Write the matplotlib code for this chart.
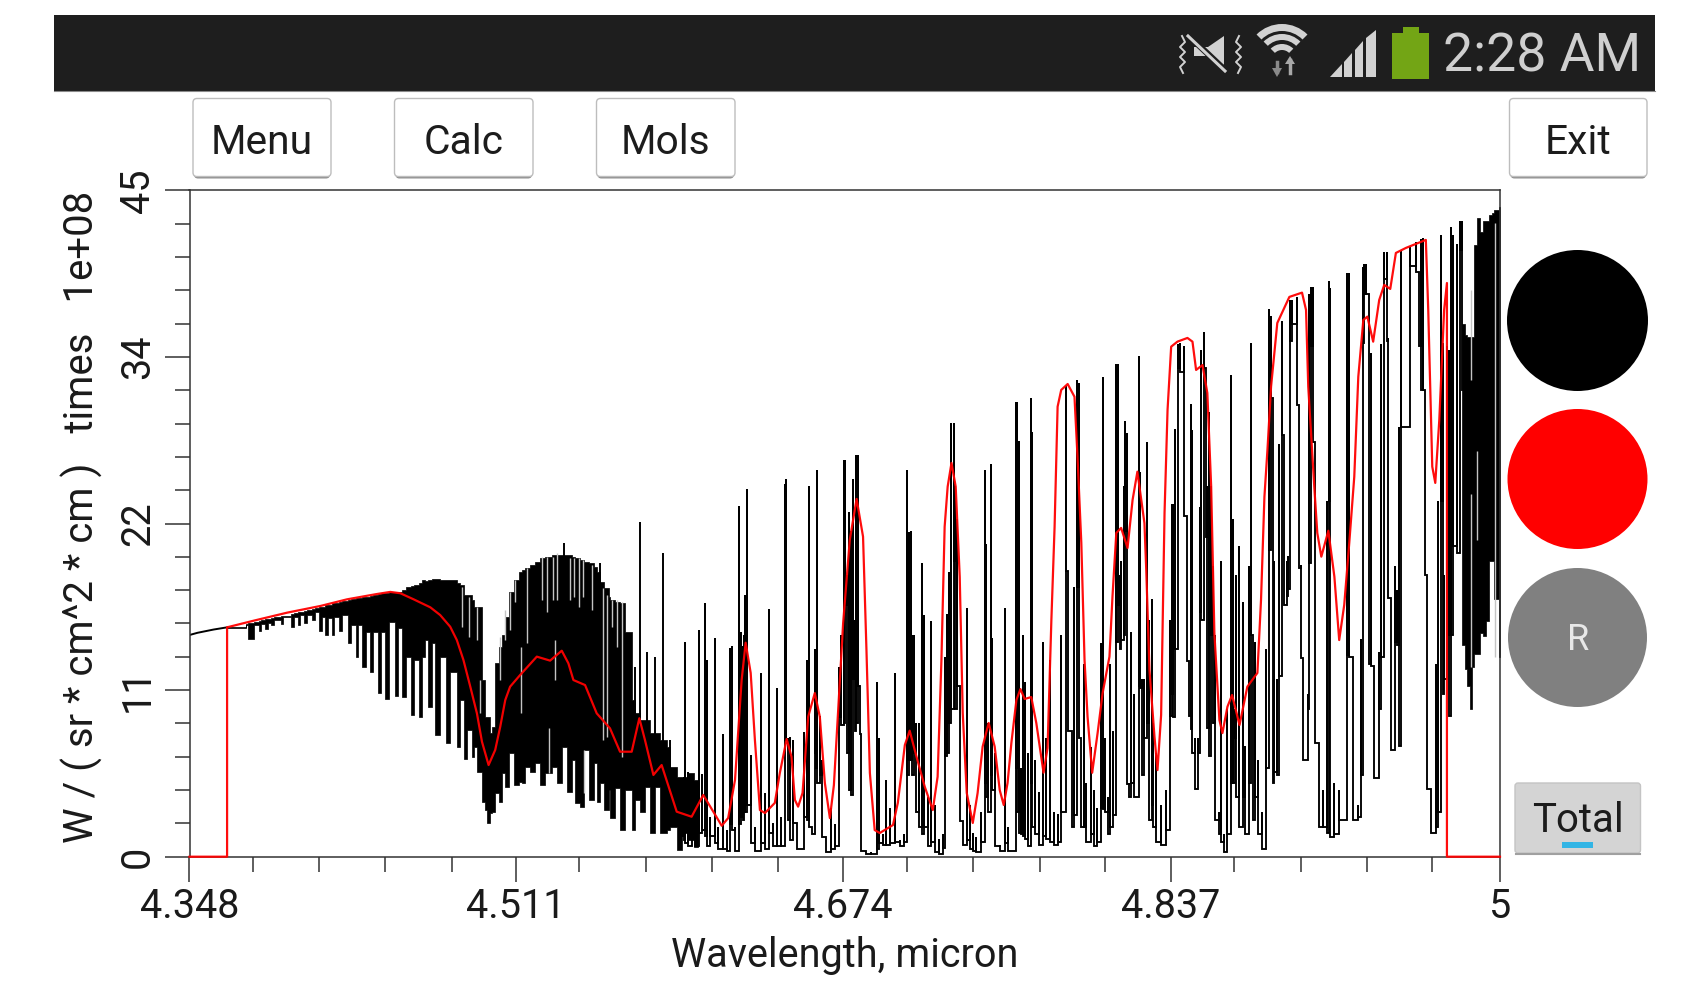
import numpy as np
import matplotlib
matplotlib.use('Agg')
import matplotlib.pyplot as plt
from matplotlib.patches import Rectangle, FancyBboxPatch, Circle, Polygon, Wedge

plt.rcParams['font.family'] = ['Roboto', 'DejaVu Sans']

W, H = 1687, 988

# ---- axis ticks
x_major = [4.348, 4.5103, 4.6732, 4.8364, 5.0]
x_labels = ['4.348', '4.511', '4.674', '4.837', '5']
x_minor = [4.3796, 4.4126, 4.4454, 4.4784, 4.5419, 4.5750, 4.6078, 4.6406,
           4.7052, 4.7378, 4.7710, 4.8033, 4.8679, 4.9010, 4.9340, 4.9663]
y_major = [0, 11.25, 22.5, 33.75, 45]
y_labels = ['0', '11', '22', '34', '45']
y_minor = [2.25, 4.5, 6.75, 9, 13.5, 15.75, 18, 20.25, 24.75, 27, 29.25, 31.5, 36, 38.25, 40.5, 42.75]

# ---- red curve (smoothed spectrum)
red_x = [4.3480, 4.3667, 4.3667, 4.3800, 4.3966, 4.4131, 4.4264, 4.4413, 4.4479, 4.4529, 4.4595, 4.4678, 4.4727,
         4.4777, 4.4810, 4.4843, 4.4877, 4.4910, 4.4935, 4.4968, 4.5001, 4.5026, 4.5051, 4.5075, 4.5125, 4.5208,
         4.5274, 4.5332, 4.5365, 4.5390, 4.5448, 4.5506, 4.5572, 4.5622, 4.5680, 4.5718, 4.5746, 4.5788, 4.5829,
         4.5904, 4.5978, 4.6036, 4.6128, 4.6160, 4.6194, 4.6227, 4.6247, 4.6272, 4.6293, 4.6318, 4.6343, 4.6392,
         4.6417, 4.6451, 4.6475, 4.6492, 4.6508, 4.6530, 4.6558, 4.6591, 4.6616, 4.6641, 4.6666, 4.6686, 4.6732,
         4.6765, 4.6799, 4.6831, 4.6848, 4.6865, 4.6889, 4.6914, 4.6980, 4.7004, 4.7039, 4.7063, 4.7097, 4.7138,
         4.7178, 4.7202, 4.7221, 4.7237, 4.7252, 4.7271, 4.7292, 4.7312, 4.7327, 4.7347, 4.7377, 4.7401, 4.7426,
         4.7456, 4.7486, 4.7511, 4.7531, 4.7550, 4.7569, 4.7594, 4.7614, 4.7635, 4.7668, 4.7693, 4.7729, 4.7749,
         4.7768, 4.7784, 4.7799, 4.7817, 4.7849, 4.7883, 4.7898, 4.7917, 4.7933, 4.7948, 4.7971, 4.7998, 4.8023,
         4.8057, 4.8072, 4.8091, 4.8115, 4.8147, 4.8172, 4.8196, 4.8231, 4.8240, 4.8256, 4.8281, 4.8296, 4.8314,
         4.8331, 4.8346, 4.8364, 4.8395, 4.8445, 4.8470, 4.8488, 4.8520, 4.8544, 4.8563, 4.8579, 4.8604, 4.8619,
         4.8644, 4.8667, 4.8704, 4.8743, 4.8793, 4.8811, 4.8828, 4.8843, 4.8861, 4.8892, 4.8952, 4.9015, 4.9035,
         4.9046, 4.9076, 4.9091, 4.9111, 4.9146, 4.9176, 4.9200, 4.9225, 4.9250, 4.9275, 4.9295, 4.9320, 4.9340,
         4.9369, 4.9399, 4.9424, 4.9454, 4.9482, 4.9532, 4.9631, 4.9643, 4.9663, 4.9678, 4.9698, 4.9722, 4.9736,
         4.9736, 5.0000]
red_y = [0, 0, 15.49, 15.94, 16.48, 16.93, 17.38, 17.74, 17.88, 17.79, 17.38, 16.84, 16.32,
         15.53, 14.63, 13.28, 11.48, 9.68, 7.77, 6.19, 7.21, 8.78, 10.58, 11.48, 12.27, 13.51,
         13.24, 13.91, 13.06, 11.93, 11.59, 9.68, 8.67, 7.09, 7.09, 9.35, 7.88, 5.52, 6.19,
         3.04, 2.70, 4.17, 2.09, 2.61, 5.18, 11.93, 14.45, 12.41, 7.88, 3.15, 2.95, 3.63,
         5.65, 7.95, 6.75, 3.83, 3.38, 4.30, 9.45, 11.05, 9.45, 4.98, 2.61, 4.84, 15.78,
         21.39, 24.16, 21.61, 13.96, 5.65, 1.80, 1.60, 2.14, 3.63, 7.54, 8.51, 6.75, 4.73,
         3.15, 5.40, 13.28, 22.28, 24.99, 26.59, 24.99, 18.91, 9.70, 4.30, 2.28, 4.30, 7.43,
         9.03, 7.43, 4.50, 3.49, 4.98, 7.68, 10.58, 11.32, 10.65, 10.78, 9.03, 5.67, 7.34,
         15.98, 22.28, 30.39, 31.52, 31.92, 31.06, 27.01, 21.18, 13.28, 9.45, 5.67, 8.35, 11.05,
         13.51, 17.56, 21.86, 22.20, 20.85, 24.09, 26.00, 22.53, 19.36, 12.61, 8.10, 5.85, 9.57,
         23.21, 30.17, 34.44, 34.78, 35.03, 34.78, 32.87, 33.20, 31.31, 24.99, 15.11, 9.23, 8.35,
         10.13, 10.92, 8.89, 11.48, 12.41, 17.33, 24.31, 27.46, 31.74, 36.04, 37.80, 38.09, 36.92,
         31.74, 24.99, 21.86, 20.26, 22.01, 18.91, 14.63, 17.00, 21.18, 25.66, 32.41, 36.24, 36.47,
         34.78, 37.59, 38.61, 38.34, 40.77, 41.11, 41.65, 36.92, 26.34, 25.24, 29.49, 36.92, 38.74,
         0, 0]

# ---- black spectrum, start of the trace before the comb
lead_x = [4.3480, 4.3520, 4.3600, 4.3668]
lead_y = [14.97, 15.12, 15.34, 15.49]

# ---- black spectrum, dense comb on the left (upper and lower edge per column)
band_x = [4.3668, 4.3759, 4.3770, 4.3800, 4.3825, 4.3837, 4.3858, 4.3873, 4.3886, 4.3900, 4.3933, 4.3946, 4.3983,
          4.3999, 4.4019, 4.4029, 4.4052, 4.4065, 4.4090, 4.4103, 4.4123, 4.4140, 4.4156, 4.4168, 4.4191, 4.4201,
          4.4223, 4.4238, 4.4268, 4.4284, 4.4306, 4.4317, 4.4340, 4.4357, 4.4380, 4.4392, 4.4420, 4.4433, 4.4455,
          4.4471, 4.4501, 4.4518, 4.4538, 4.4558, 4.4582, 4.4599, 4.4620, 4.4637, 4.4654, 4.4665, 4.4687, 4.4703,
          4.4728, 4.4756, 4.4778, 4.4811, 4.4828, 4.4844, 4.4861, 4.4886, 4.4897, 4.4910, 4.4935, 4.4952, 4.4960,
          4.4973, 4.4985, 4.5002, 4.5018, 4.5035, 4.5051, 4.5068, 4.5093, 4.5118, 4.5134, 4.5151, 4.5176, 4.5200,
          4.5222, 4.5250, 4.5283, 4.5308, 4.5333, 4.5358, 4.5383, 4.5399, 4.5424, 4.5441, 4.5466, 4.5490, 4.5507,
          4.5524, 4.5540, 4.5565, 4.5573, 4.5598, 4.5623, 4.5648, 4.5681, 4.5698, 4.5722, 4.5747, 4.5772, 4.5797,
          4.5822, 4.5855, 4.5872, 4.5905, 4.5930, 4.5954, 4.5988, 4.6012]
band_top = [15.49, 15.72, 15.76, 15.85, 15.94, 15.96, 16.03, 16.08, 16.12, 16.17, 16.26, 16.28, 16.39,
            16.44, 16.50, 16.53, 16.59, 16.64, 16.75, 16.80, 16.84, 16.89, 16.98, 17.02, 17.11, 17.13,
            17.22, 17.27, 17.34, 17.38, 17.45, 17.47, 17.52, 17.56, 17.61, 17.65, 17.74, 17.79, 17.83,
            17.85, 17.88, 17.88, 18.01, 18.19, 18.28, 18.35, 18.46, 18.69, 18.64, 18.69, 18.73, 18.73,
            18.69, 18.69, 18.69, 18.46, 18.35, 17.67, 17.67, 17.34, 16.89, 16.89, 11.93, 9.46, 9.46,
            8.33, 8.78, 13.06, 14.19, 14.97, 16.21, 17.90, 18.69, 19.25, 19.36, 19.48, 19.70, 19.93,
            20.15, 20.26, 20.38, 20.38, 20.38, 20.38, 20.26, 20.15, 20.04, 19.93, 19.81, 19.59, 19.25,
            18.58, 18.13, 17.56, 17.34, 17.22, 17.11, 15.20, 10.58, 9.68, 9.23, 9.23, 8.33, 8.33,
            7.88, 7.43, 6.08, 5.41, 5.41, 5.63, 5.18, 3.83]
band_low = [15.45, 15.67, 14.68, 15.65, 15.27, 15.72, 15.36, 15.81, 15.63, 15.99, 15.72, 16.17, 15.54,
            16.21, 15.65, 16.32, 15.76, 16.32, 15.99, 16.55, 15.27, 16.21, 14.97, 16.10, 14.97, 16.21,
            15.27, 16.32, 14.41, 15.65, 13.51, 15.65, 12.84, 15.20, 12.50, 15.20, 11.03, 15.20, 10.63,
            15.87, 10.85, 15.42, 10.81, 13.51, 9.57, 13.29, 9.46, 13.51, 14.64, 10.13, 14.41, 8.22,
            13.51, 7.66, 12.50, 7.39, 10.58, 6.58, 8.56, 6.76, 7.43, 5.74, 3.72, 3.16, 2.25,
            2.93, 3.04, 4.28, 3.72, 5.63, 4.73, 6.98, 4.84, 5.07, 4.96, 6.08, 5.74, 6.31,
            4.84, 5.63, 6.08, 4.96, 7.43, 4.39, 6.53, 3.61, 3.38, 7.21, 3.83, 6.31, 3.72,
            4.96, 3.16, 4.51, 2.59, 4.62, 1.80, 4.51, 1.80, 3.83, 3.04, 4.73, 1.58, 4.73,
            1.58, 1.80, 2.03, 0.45, 1.58, 1.13, 0.68, 1.13]

# ---- black spectrum, single lines standing out above the comb
tall_x = [4.5341, 4.5520, 4.5643, 4.5664, 4.5698, 4.5719, 4.5756, 4.5797, 4.5835, 4.5872]
tall_top = [21.16, 19.81, 15.20, 13.96, 12.84, 22.63, 13.85, 13.51, 20.49, 7.88]
tall_low = [19.0, 18.0, 8.0, 8.0, 8.0, 5.0, 8.0, 8.0, 6.0, 5.0]

# ---- black spectrum, separate lines: position, top of the line, bottom reached after it
spec_x = [4.5928, 4.5940, 4.5945, 4.5961, 4.5978, 4.5995, 4.6014, 4.6028, 4.6044, 4.6053, 4.6069, 4.6094, 4.6111,
          4.6132, 4.6152, 4.6169, 4.6177, 4.6193, 4.6215, 4.6223, 4.6232, 4.6240, 4.6246, 4.6253, 4.6276, 4.6293,
          4.6321, 4.6343, 4.6362, 4.6384, 4.6404, 4.6425, 4.6444, 4.6450, 4.6459, 4.6467, 4.6483, 4.6500, 4.6536,
          4.6550, 4.6561, 4.6575, 4.6591, 4.6598, 4.6603, 4.6619, 4.6629, 4.6649, 4.6674, 4.6691, 4.6712, 4.6720,
          4.6734, 4.6742, 4.6749, 4.6762, 4.6772, 4.6782, 4.6790, 4.6798, 4.6806, 4.6815, 4.6823, 4.6848, 4.6873,
          4.6898, 4.6909, 4.6931, 4.6947, 4.6964, 4.6989, 4.7013, 4.7033,
          4.7050, 4.7060, 4.7068, 4.7076, 4.7085, 4.7096, 4.7110, 4.7126, 4.7136, 4.7154, 4.7167, 4.7187, 4.7209,
          4.7229, 4.7240, 4.7250, 4.7259, 4.7270, 4.7282, 4.7290, 4.7298, 4.7312, 4.7328, 4.7348, 4.7361, 4.7378,
          4.7394, 4.7416, 4.7438, 4.7444, 4.7454, 4.7467, 4.7474, 4.7486, 4.7510, 4.7537, 4.7552, 4.7593, 4.7598,
          4.7607, 4.7615, 4.7627, 4.7636, 4.7651, 4.7665, 4.7673, 4.7685, 4.7706, 4.7726, 4.7743, 4.7759, 4.7779,
          4.7801, 4.7817, 4.7842, 4.7853, 4.7872, 4.7883, 4.7897, 4.7905, 4.7916, 4.7928, 4.7941,
          4.7966, 4.7978, 4.7994, 4.8016, 4.8024, 4.8033, 4.8049, 4.8061, 4.8074, 4.8091, 4.8099, 4.8107, 4.8115,
          4.8129, 4.8135, 4.8142, 4.8153, 4.8165, 4.8177, 4.8202, 4.8208, 4.8220, 4.8231, 4.8243, 4.8256, 4.8269,
          4.8276, 4.8289, 4.8314, 4.8336, 4.8356, 4.8366, 4.8372, 4.8382, 4.8397, 4.8409, 4.8430, 4.8442, 4.8455,
          4.8462, 4.8468, 4.8485, 4.8497, 4.8505, 4.8513, 4.8525, 4.8535, 4.8541, 4.8554, 4.8563, 4.8574, 4.8584,
          4.8601, 4.8611, 4.8629, 4.8641, 4.8661, 4.8670, 4.8680, 4.8687, 4.8700, 4.8720, 4.8730, 4.8753, 4.8762,
          4.8770, 4.8781, 4.8795, 4.8816, 4.8836, 4.8853, 4.8861, 4.8869, 4.8878, 4.8891, 4.8902, 4.8916, 4.8927,
          4.8939, 4.8947,
          4.8957, 4.8965, 4.8988, 4.9002, 4.9010, 4.9022, 4.9043, 4.9051, 4.9061, 4.9068, 4.9081, 4.9101, 4.9118,
          4.9138, 4.9148, 4.9156, 4.9176, 4.9201, 4.9237, 4.9250, 4.9267, 4.9292, 4.9308, 4.9316, 4.9325, 4.9335,
          4.9350, 4.9356, 4.9374, 4.9396, 4.9408, 4.9424, 4.9436, 4.9442, 4.9457, 4.9479, 4.9489, 4.9499, 4.9507,
          4.9552, 4.9582, 4.9595, 4.9606, 4.9618, 4.9626, 4.9635, 4.9656, 4.9681, 4.9694, 4.9706, 4.9714, 4.9722,
          4.9736, 4.9747, 4.9756, 4.9764, 4.9776, 4.9785, 4.9802, 4.9809]
spec_top = [4.5, 5.4, 14.5, 5.7, 4.3, 2.9, 15.3, 5.6, 17.1, 13.3, 2.7, 14.8, 2.0,
            8.3, 1.8, 14.1, 14.2, 2.0, 23.7, 15.2, 14.2, 15.0, 17.7, 24.8, 6.9, 2.0,
            12.4, 4.3, 16.7, 2.3, 11.4, 2.7, 25.2, 25.5, 8.0, 8.1, 7.9, 2.3, 8.4,
            13.3, 25.0, 2.0, 14.0, 14.0, 26.1, 9.5, 6.5, 1.2, 3.3, 2.2, 12.8, 15.0,
            26.8, 26.8, 19.0, 23.3, 22.0, 25.5, 16.0, 27.1, 27.1, 11.5, 3.2, 0.3, 0.3,
            11.8, 8.0, 1.5, 5.2, 3.3, 12.4, 1.1, 1.5,
            26.1, 21.9, 22.0, 15.0, 15.0, 9.0, 9.0, 19.8, 16.3, 4.0, 15.9, 3.5, 1.2,
            1.5, 13.5, 16.4, 19.2, 29.3, 29.3, 25.0, 22.8, 3.0, 1.5, 16.8, 3.5, 1.6,
            1.3, 3.0, 26.1, 21.1, 9.0, 26.5, 14.8, 7.0, 0.8, 16.8, 2.0, 30.7, 30.7,
            28.1, 6.0, 15.0, 11.8, 7.0, 31.0, 28.7, 6.5, 4.4, 14.5, 8.0, 13.3, 3.0,
            2.9, 15.0, 31.8, 19.3, 8.0, 18.2, 32.2, 32.0, 8.0, 13.0, 5.0,
            7.4, 4.5, 3.3, 14.4, 32.4, 8.0, 4.0, 13.0, 8.5, 33.3, 33.3, 19.0, 20.0,
            25.0, 29.4, 28.6, 5.0, 15.2, 11.0, 33.8, 26.0, 12.0, 12.0, 28.0, 16.0, 17.4,
            9.0, 7.0, 3.5, 4.5, 16.0, 23.8, 23.8, 28.9, 34.6, 34.7, 34.5, 22.9, 13.2,
            30.6, 28.8, 8.0, 8.0, 23.6, 34.2, 35.4, 25.5, 25.0, 30.0, 25.0, 19.6, 15.0,
            3.0, 20.0, 1.5, 10.0, 32.5, 22.8, 10.0, 19.0, 21.0, 17.2, 7.5, 19.6, 34.7,
            15.0, 14.5, 6.5, 3.0, 14.0, 37.0, 36.5, 20.0, 20.0, 12.0, 27.9, 36.2, 28.5,
            20.0, 20.3,
            37.6, 37.6, 37.8, 19.7, 19.7, 13.0, 11.0, 38.0, 38.5, 38.5, 27.5, 2.5, 4.5,
            24.0, 38.9, 38.4, 5.0, 4.5, 39.4, 39.4, 8.0, 3.5, 14.7, 39.8, 40.0, 40.0,
            13.0, 34.0, 6.0, 13.8, 34.6, 40.8, 40.8, 35.0, 7.3, 19.6, 18.0, 29.0, 40.9,
            41.2, 41.5, 39.0, 41.7, 41.8, 31.5, 19.0, 2.0, 13.0, 24.0, 42.0, 34.7, 19.0,
            34.5, 34.2, 42.5, 42.0, 21.0, 41.4, 42.9, 42.9]
spec_low = [1.4, 1.1, 0.9, 0.7, 1.4, 0.7, 1.6, 1.8, 1.4, 0.7, 1.4, 0.9, 0.5,
            0.5, 0.4, 2.2, 1.8, 0.4, 2.2, 2.7, 2.5, 3.0, 3.0, 3.5, 0.9, 0.4,
            0.9, 0.5, 1.6, 0.7, 0.7, 0.7, 7.9, 7.9, 2.5, 1.1, 2.3, 0.5, 2.7,
            2.5, 2.0, 1.5, 7.0, 6.0, 5.0, 5.5, 1.3, 0.3, 0.5, 0.7, 9.4, 8.9,
            9.0, 17.0, 7.0, 4.5, 4.2, 12.0, 8.5, 9.0, 11.5, 8.3, 0.4, 0.2, 0.2,
            0.5, 0.9, 0.8, 0.8, 0.9, 1.0, 0.7, 1.0,
            5.5, 6.5, 6.5, 5.5, 7.0, 3.0, 2.0, 1.5, 2.0, 0.7, 1.0, 0.3, 0.2,
            0.6, 6.8, 7.0, 9.0, 10.0, 20.0, 10.0, 11.5, 2.4, 0.8, 1.1, 0.5, 0.4,
            0.3, 1.0, 5.0, 4.0, 3.0, 5.5, 4.5, 0.7, 0.4, 0.9, 0.4, 6.0, 3.0,
            1.6, 1.5, 1.4, 1.2, 0.7, 5.0, 2.0, 1.5, 0.8, 1.4, 1.2, 1.0, 0.8,
            1.0, 3.0, 19.3, 8.5, 2.0, 2.8, 18.2, 8.0, 2.0, 2.0, 1.0,
            1.5, 0.7, 1.0, 3.3, 3.2, 3.0, 1.5, 2.0, 2.8, 14.5, 17.0, 14.0, 14.6,
            15.0, 22.0, 4.9, 4.0, 5.0, 4.0, 11.5, 11.4, 5.5, 8.0, 9.0, 2.5, 3.5,
            2.0, 1.0, 0.8, 1.8, 9.5, 11.0, 9.4, 14.0, 33.0, 32.7, 23.0, 13.2, 9.5,
            8.6, 7.0, 4.6, 7.0, 16.5, 16.0, 33.0, 21.6, 8.7, 6.8, 15.0, 9.0, 2.5,
            1.5, 1.0, 0.3, 1.5, 5.0, 5.0, 8.0, 4.0, 2.0, 4.0, 1.5, 5.0, 15.0,
            2.5, 4.0, 1.5, 0.5, 6.0, 20.7, 31.0, 5.0, 5.7, 5.5, 12.2, 28.5, 17.0,
            17.6, 18.1,
            34.8, 36.0, 30.5, 19.5, 13.4, 6.5, 10.0, 19.8, 34.5, 28.0, 7.7, 2.0, 2.0,
            1.6, 24.0, 1.3, 1.5, 2.5, 13.6, 13.5, 2.5, 2.7, 5.5, 34.7, 38.0, 38.0,
            13.0, 12.9, 5.3, 10.0, 13.5, 39.0, 34.8, 17.5, 7.2, 14.5, 14.3, 7.5, 29.0,
            39.9, 39.5, 34.5, 31.5, 31.5, 19.0, 4.6, 1.6, 2.0, 3.0, 24.0, 11.0, 12.0,
            15.0, 9.5, 15.0, 21.0, 21.0, 20.5, 41.0, 31.5]

# ---- black spectrum, solid block at the right end
end_x = [4.9810, 4.9827, 4.9838, 4.9850, 4.9860, 4.9872, 4.9888, 4.9900, 4.9916, 4.9930, 4.9943, 4.9959, 4.9971, 4.9996, 5.0]
end_top = [36.0, 35.2, 35.1, 35.1, 35.1, 41.3, 43.1, 42.2, 42.9, 42.9, 43.3, 43.5, 43.7, 43.9, 43.9]
end_low = [14.3, 12.7, 11.5, 10.0, 12.8, 13.7, 13.7, 15.1, 14.9, 15.9, 20.0, 20.0, 17.4, 13.5, 13.5]

# ---- thin light gaps left between the black columns
slit_x = [4.4836, 4.4869, 4.4910, 4.4927, 4.5026, 4.5051, 4.5076, 4.5101, 4.5129, 4.5159, 4.5234, 4.5258, 4.5286,
          4.5296, 4.5308, 4.5371, 4.5391, 4.5416, 4.5436, 4.5270, 4.5441, 4.5482, 4.5537, 4.5557, 4.5582, 4.5606,
          4.5631, 4.9855, 4.9855, 4.9885, 4.9974]
slit_hi = [18.24, 17.56, 16.89, 11.93, 14.86, 16.66, 17.90, 18.69, 14.19, 19.48, 20.26, 20.26, 20.26,
           14.64, 20.53, 20.15, 20.15, 20.15, 20.04, 8.67, 7.21, 19.70, 18.13, 17.67, 17.34, 17.34,
           17.22, 38.3, 24.5, 27.4, 42.8]
slit_lo = [15.54, 14.86, 14.64, 9.68, 11.93, 14.64, 15.31, 17.22, 9.68, 14.41, 17.34, 16.55, 17.34,
           11.93, 17.34, 17.34, 17.56, 16.89, 17.56, 5.63, 4.28, 16.66, 7.88, 8.11, 15.54, 14.19,
           6.76, 32.2, 12.8, 21.4, 13.5]

fig = plt.figure(figsize=(W / 100, H / 100), dpi=100, facecolor='white')

# chart
ax = fig.add_axes([189.5 / W, 1 - 856.7 / H, 1310.5 / W, 666.4 / H])
ax.set_xlim(4.348, 5.0)
ax.set_ylim(0, 45)

ax.plot(lead_x, lead_y, color='k', lw=1.4, zorder=1.5)
ax.fill_between(band_x, band_low, band_top, step='post', color='k', lw=0.5, zorder=1.5)
ax.fill_between(end_x, end_low, end_top, step='post', color='k', lw=0.5, zorder=1.5)
ax.vlines(tall_x, tall_low, tall_top, color='k', lw=1.4, zorder=1.5)

# lines go up and down in place, then run along their bottom value to the next one
spec_x = np.array(spec_x)
spec_top = np.array(spec_top)
spec_low = np.array(spec_low)
prev_low = np.r_[spec_low[0], spec_low[:-1]]
trace_x = np.repeat(spec_x, 3)
trace_y = np.column_stack([prev_low, spec_top, spec_low]).ravel()
ax.plot(trace_x, trace_y, color='k', lw=1.35, solid_joinstyle='miter', zorder=1.6)

ax.vlines(slit_x, slit_lo, slit_hi, color='#c4c4c4', lw=1.0, zorder=1.7)

ax.plot(red_x, red_y, color='#ff0000', lw=1.6, alpha=0.95, zorder=3, clip_on=False)

ax.set_xticks(x_major)
ax.set_xticklabels(x_labels)
ax.set_xticks(x_minor, minor=True)
ax.set_yticks(y_major)
ax.set_yticklabels(y_labels, rotation=90, va='center')
ax.set_yticks(y_minor, minor=True)
ax.tick_params(which='major', length=18, width=1.1, color='#333333', labelsize=28.5, labelcolor='#1a1a1a')
ax.tick_params(which='minor', length=11, width=1.1, color='#333333')
ax.tick_params(axis='x', which='major', pad=4)
ax.tick_params(axis='y', which='major', pad=5.5)
for s in ax.spines.values():
    s.set_linewidth(1.1)
    s.set_color('#333333')
ax.set_xlabel('Wavelength, micron', fontsize=28.5, color='#1a1a1a', labelpad=7)
fig.text(81.5 / W, 1 - 517 / H, 'W / ( sr * cm^2 * cm )   times   1e+08', rotation=90, fontsize=28.9,
         color='#1a1a1a', ha='center', va='center')

# screen around the chart, drawn in pixel coordinates
ui = fig.add_axes([0, 0, 1, 1], facecolor='none', zorder=5)
ui.set_xlim(0, W)
ui.set_ylim(H, 0)
ui.axis('off')

ui.add_patch(Rectangle((54, 15), 1601, 76, fc='#1e1e1e', ec='none'))
ui.plot([54, 1655], [91, 91], color='#8a8a8a', lw=0.8)


def button(x0, x1, y0, y1, label, fill='white', edge='#bdbdbd'):
    ui.add_patch(FancyBboxPatch((x0 + 1, y0 + 3), x1 - x0 - 2, y1 - y0 - 1, boxstyle='round,pad=0,rounding_size=4',
                                fc='#7c7c7c', ec='none', alpha=0.85))
    ui.add_patch(FancyBboxPatch((x0, y0), x1 - x0, y1 - y0, boxstyle='round,pad=0,rounding_size=4',
                                fc=fill, ec=edge, lw=1.0))
    ui.text((x0 + x1) / 2, (y0 + y1) / 2 + 4.5, label, fontsize=29.3, color='#1c1c1c', ha='center', va='center')


button(193, 331, 98.5, 176.5, 'Menu')
button(394.5, 533, 98.5, 176.5, 'Calc')
button(596.5, 735, 98.5, 176.5, 'Mols')
button(1509.5, 1647, 98.5, 176.5, 'Exit')

ui.add_patch(Circle((1577.5, 320.5), 70.5, fc='black', ec='none'))
ui.add_patch(Circle((1577.5, 479), 70, fc='#ff0000', ec='none'))
ui.add_patch(Circle((1577.5, 637.5), 69.5, fc='#808080', ec='none'))
ui.text(1578, 640, 'R', fontsize=26, color='#e8e8e8', ha='center', va='center')

ui.add_patch(FancyBboxPatch((1515, 783), 125.5, 70, boxstyle='round,pad=0,rounding_size=3',
                            fc='#d4d4d4', ec='#c4c4c4', lw=1.0))
ui.plot([1516, 1640], [853.5, 853.5], color='#a0a0a0', lw=1.5)
ui.text(1578, 820, 'Total', fontsize=29, color='#1c1c1c', ha='center', va='center')
ui.add_patch(Rectangle((1562, 842), 31, 6, fc='#33b5e5', ec='none'))

# status bar icons
icon = '#d2d2d2'
ui.add_patch(Polygon([(1392.5, 33), (1403, 33), (1403, 27), (1419, 27), (1419, 33), (1429, 33), (1429, 79), (1392.5, 79)],
                     fc='#73a515', ec='none'))
ui.add_patch(Polygon([(1330, 77), (1342, 64), (1342, 77)], fc=icon, ec='none'))
ui.add_patch(Polygon([(1344, 77), (1344, 62), (1352, 53), (1352, 77)], fc=icon, ec='none'))
ui.add_patch(Polygon([(1355, 77), (1355, 50), (1363, 41), (1363, 77)], fc=icon, ec='none'))
ui.add_patch(Polygon([(1366, 77), (1366, 38), (1376, 30), (1376, 77)], fc=icon, ec='none'))
ui.add_patch(Wedge((1282, 60), 36, 225, 315, width=7, fc=icon, ec='none'))
ui.add_patch(Wedge((1282, 60), 26, 225, 315, width=6, fc=icon, ec='none'))
ui.add_patch(Wedge((1282, 60), 16, 225, 315, width=6, fc=icon, ec='none'))
ui.plot([1277, 1277], [62, 72], color='#8a8a8a', lw=2.5)
ui.plot([1290, 1290], [60, 73], color='#a8a8a8', lw=2.5)
ui.add_patch(Polygon([(1272, 68), (1282, 68), (1277, 77)], fc='#8a8a8a', ec='none'))
ui.add_patch(Polygon([(1285, 64), (1295, 64), (1290, 56)], fc='#a8a8a8', ec='none'))
# muted speaker with vibration marks
ui.add_patch(Polygon([(1194, 47), (1208, 47), (1224, 36), (1224, 65), (1208, 56), (1194, 56)], fc=icon, ec='none'))
ui.plot([1190, 1227], [37, 72], color='#1e1e1e', lw=4.5)
ui.plot([1188, 1225], [36, 71], color=icon, lw=2.2)
ui.plot([1182, 1185, 1180, 1185, 1180, 1185, 1180, 1183], [36, 42, 47, 52, 57, 62, 67, 73], color=icon, lw=1.4)
ui.plot([1239, 1236, 1241, 1236, 1241, 1236, 1241, 1238], [36, 42, 47, 52, 57, 62, 67, 73], color=icon, lw=1.4)

ui.text(1641, 56.5, '2:28 AM', fontsize=38.5, color='#cfcfcf', ha='right', va='center')

fig.savefig('out.png', dpi=100)
